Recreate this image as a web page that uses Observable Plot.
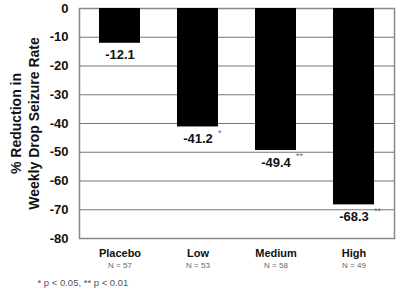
<!DOCTYPE html>
<html><head>
<meta charset="utf-8">
<script src="https://cdn.jsdelivr.net/npm/d3@7"></script>
<script src="https://cdn.jsdelivr.net/npm/@observablehq/plot@0.6"></script>
<style>body{margin:0;background:#fff;font-family:"Liberation Sans",Arial,sans-serif}</style>
</head><body><div id="chart"></div>
<script>
const groups = ["Placebo", "Low", "Medium", "High"];
const values = [-12.1, -41.2, -49.4, -68.3];
const nLabels = ["N = 57", "N = 53", "N = 58", "N = 49"];
const stars = ["", "*", "**", "**"];
const yTicks = [0, -10, -20, -30, -40, -50, -60, -70, -80];
const footnote = "* p < 0.05, ** p < 0.01";

const data = groups.map((g, i) => ({group: g, value: values[i], n: nLabels[i], star: stars[i]}));

const chart = Plot.plot({
  width: 400, height: 298,
  marginTop: 8, marginLeft: 79, marginRight: 6, marginBottom: 60,
  style: {fontFamily: "Liberation Sans, Arial, sans-serif", background: "#fff"},
  x: {domain: groups, paddingInner: 0.47, paddingOuter: 0.235, axis: null},
  y: {domain: [-80, 0], axis: null},
  marks: [
    Plot.gridY(yTicks, {stroke: "#777", strokeOpacity: 1, strokeWidth: 1}),
    Plot.frame({stroke: "#888", strokeWidth: 1.5}),
    Plot.barY(data, {x: "group", y: "value", fill: "black"}),
    Plot.axisY(yTicks, {label: null, tickSize: 0, tickPadding: 11, fontSize: 13, fontWeight: "bold", fill: "#111", tickFormat: d => String(d)}),
    Plot.text(data, {x: "group", y: "value", text: d => d.value.toFixed(1), dy: 12, fontSize: 13, fontWeight: "bold", fill: "#111"}),
    Plot.text(data, {x: "group", y: "value", text: "star", dy: 6, dx: 20, textAnchor: "start", fontSize: 9, fill: "#666"}),
    Plot.text(data, {x: "group", text: "group", frameAnchor: "bottom", dy: 18, fontSize: 11, fontWeight: "bold", fill: "#111", letterSpacing: "1.5px"}),
    Plot.text(data, {x: "group", text: "n", frameAnchor: "bottom", dy: 29, fontSize: 8, fill: "#666", letterSpacing: "-0.3px"}),
    Plot.text([footnote], {frameAnchor: "bottom-left", dx: -42, dy: 47, textAnchor: "start", fontSize: 9.5, fill: "#555"}),
    Plot.text(["% Reduction in\nWeekly Drop Seizure Rate"], {frameAnchor: "left", textAnchor: "middle", dx: -55, dy: 0, rotate: -90, fontSize: 14, fontWeight: "bold", fill: "#111", lineHeight: 1.3})
  ]
});
document.getElementById("chart").appendChild(chart);
</script></body></html>
